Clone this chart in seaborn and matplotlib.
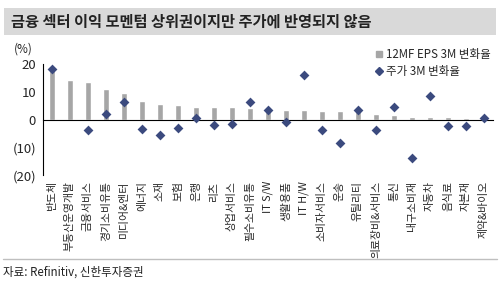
import numpy as np
import pandas as pd
import matplotlib
matplotlib.use("Agg")
import matplotlib.pyplot as plt
from matplotlib.lines import Line2D
from matplotlib.patches import Rectangle
import seaborn as sns

# data
sectors = ['반도체', '부동산운영개발', '금융서비스', '경기소비유통', '미디어&엔터', '에너지', '소재',
           '보험', '은행', '리츠', '상업서비스', '필수소비유통', 'IT S/W', '생활용품', 'IT H/W',
           '소비자서비스', '운송', '유틸리티', '의료장비&서비스', '통신', '내구소비재', '자동차',
           '음식료', '자본재', '제약&바이오']
eps_chg = [18.0, 14.4, 13.4, 11.1, 9.5, 6.8, 5.7, 5.1, 4.7, 4.7, 4.4, 4.0, 3.5, 3.3, 3.3,
           3.2, 3.1, 3.0, 2.1, 1.8, 1.0, 1.0, 0.8, 0.4, 0.2]
price_chg = [18.3, None, -3.9, 1.9, 6.2, -3.5, -5.4, -3.0, 0.7, -1.9, -1.6, 6.2, 3.3, -0.8, 15.9,
             -3.6, -8.5, 3.3, -3.8, 4.4, -14.0, 8.5, -2.3, -2.3, 0.7]
yticks = [20, 10, 0, -10, -20]
ytick_labels = ['20', '10', '0', '(10)', '(20)']

df = pd.DataFrame({'sector': sectors, 'eps': eps_chg, 'price': price_chg})

sns.set_style("white")
plt.rcParams['font.family'] = ['Noto Sans CJK KR', 'DejaVu Sans']

bar_color = '#a6a6a6'
dot_color = '#3b4a7e'

fig = plt.figure(figsize=(5, 2.81), dpi=100)
ax = fig.add_axes([0.086, 0.377, 0.9, 0.395])

sns.barplot(data=df, x='sector', y='eps', color=bar_color, width=0.3, ax=ax, saturation=1)
sns.stripplot(data=df.dropna(), x='sector', y='price', order=sectors, jitter=False, marker='D',
              size=5, color=dot_color, linewidth=0, ax=ax)

ax.set_ylim(-20, 20)
ax.set_xlim(-0.5, len(sectors) - 0.5)
ax.set_yticks(yticks)
ax.set_yticklabels(ytick_labels, fontsize=9.5)
ax.set_xlabel('')
ax.set_ylabel('')

for s in ['top', 'right']:
    ax.spines[s].set_visible(False)
ax.spines['left'].set_color('black')
ax.spines['left'].set_linewidth(0.8)
ax.spines['bottom'].set_position(('data', 0))
ax.spines['bottom'].set_color('black')
ax.spines['bottom'].set_linewidth(0.8)

ax.set_xticks(np.arange(len(sectors)))
ax.set_xticklabels(sectors, rotation=90, fontsize=7.8, va='top', ha='center')
ax.set_xticks(np.arange(len(sectors)) + 0.5, minor=True)
ax.tick_params(axis='x', which='major', length=0, pad=44)
ax.tick_params(axis='x', which='minor', length=3, direction='out', width=0.8, color='black')
ax.tick_params(axis='y', length=3, direction='out', width=0.8, color='black', pad=2)

ax.text(-0.065, 1.1, '(%)', transform=ax.transAxes, fontsize=8.5)

handles = [Line2D([], [], marker='s', color=bar_color, linestyle='', markersize=5),
           Line2D([], [], marker='D', color=dot_color, linestyle='', markersize=4.5)]
fig.legend(handles, ['12MF EPS 3M 변화율', '주가 3M 변화율'], loc='upper left',
           bbox_to_anchor=(0.725, 0.865), frameon=False, fontsize=8.3,
           handletextpad=0.1, labelspacing=0.35, handlelength=1)

# title band
fig.patches.append(Rectangle((0.008, 0.877), 0.984, 0.095, transform=fig.transFigure,
                             facecolor='#d9d9d9', edgecolor='none', zorder=0))
fig.text(0.022, 0.922, '금융 섹터 이익 모멘텀 상위권이지만 주가에 반영되지 않음',
         fontsize=11, fontweight='bold', va='center', ha='left', color='#222222')

# source line
fig.add_artist(Line2D([0.006, 0.994], [0.079, 0.079], transform=fig.transFigure,
                      color='#bfbfbf', linewidth=1))
fig.text(0.006, 0.032, '자료: Refinitiv, 신한투자증권', fontsize=8.3, va='center', ha='left',
         color='#222222')

fig.savefig('out.png', dpi=100)
